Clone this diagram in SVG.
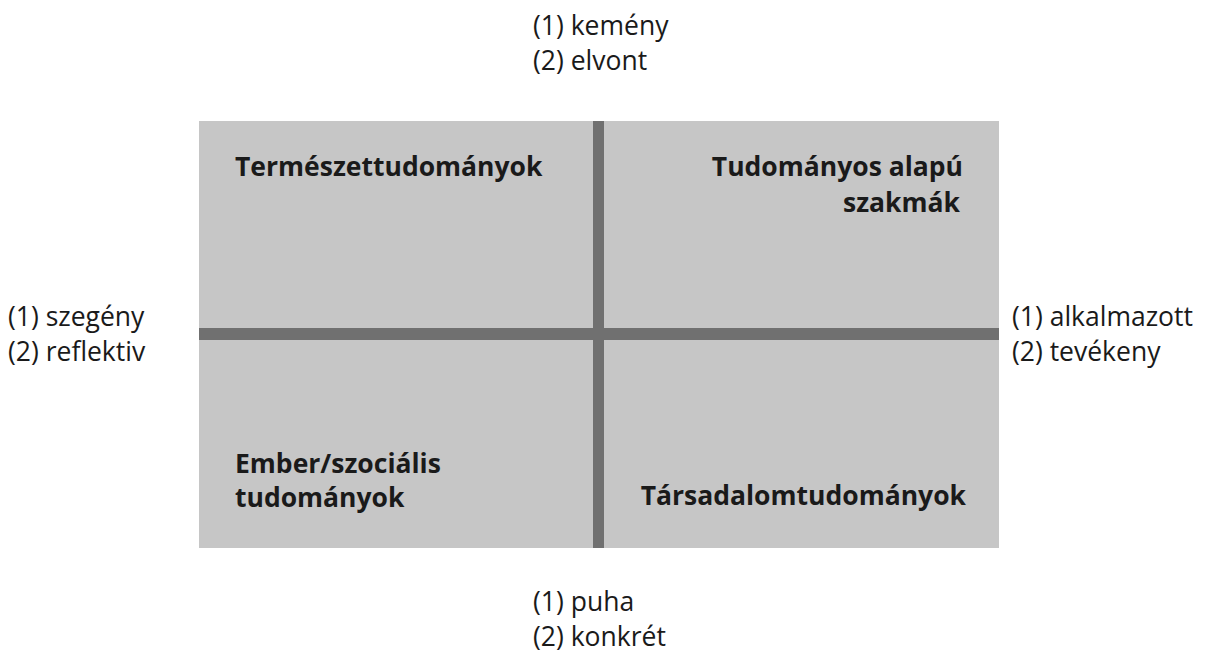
<svg xmlns="http://www.w3.org/2000/svg" width="1227" height="657" viewBox="0 0 1227 657">
<style>
.lbl{font-family:"Open Sans","Noto Sans",sans-serif;font-size:26.5px;fill:#1a1a1a}
.ttl{font-family:"Open Sans","Noto Sans",sans-serif;font-size:26.5px;font-weight:bold;fill:#1a1a1a}
.bar{fill:#707070}
</style>
<rect width="1227" height="657" fill="#fff"/>
<g id="quadrants">
<rect x="199" y="121" width="800" height="427" fill="#c6c6c6"/>
</g>
<g id="connectors">
<rect class="bar" x="593" y="121" width="11" height="427"/>
<rect class="bar" x="199" y="328" width="800" height="12"/>
</g>
<g id="q1"><text class="ttl" x="235" y="176">Természettudományok</text></g>
<g id="q2"><text class="ttl" x="963" y="176" text-anchor="end">Tudományos alapú</text><text class="ttl" x="960" y="212" text-anchor="end">szakmák</text></g>
<g id="q3"><text class="ttl" x="235" y="473">Ember/szociális</text><text class="ttl" x="235" y="507">tudományok</text></g>
<g id="q4"><text class="ttl" x="966" y="505" text-anchor="end">Társadalomtudományok</text></g>
<g id="top"><text class="lbl" x="533" y="35">(1) kemény</text><text class="lbl" x="533" y="70">(2) elvont</text></g>
<g id="left"><text class="lbl" x="8" y="326">(1) szegény</text><text class="lbl" x="8" y="361">(2) reflektiv</text></g>
<g id="right"><text class="lbl" x="1012" y="326">(1) alkalmazott</text><text class="lbl" x="1012" y="361">(2) tevékeny</text></g>
<g id="bottom"><text class="lbl" x="533" y="611">(1) puha</text><text class="lbl" x="533" y="646">(2) konkrét</text></g>
</svg>
